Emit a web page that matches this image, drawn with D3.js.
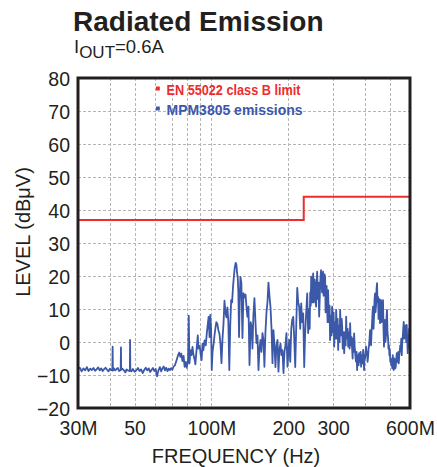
<!DOCTYPE html>
<html>
<head>
<meta charset="utf-8">
<script src="https://cdn.jsdelivr.net/npm/d3@7"></script>
<style>
  html, body { margin: 0; padding: 0; background: #fff; }
  svg { display: block; }
  text { font-family: "Liberation Sans", Arial, Helvetica, sans-serif; }
</style>
</head>
<body>
<svg id="chart" width="437" height="467"></svg>
<script>
// ---------- data ----------
const title = "Radiated Emission";
const xTickValues = [30, 50, 100, 200, 300, 600];
const xTickLabels = ["30M", "50", "100M", "200", "300", "600M"];
const xGridValues = [40, 50, 60, 70, 80, 90, 100, 200, 300, 400, 500];
const yTickValues = [-20, -10, 0, 10, 20, 30, 40, 50, 60, 70, 80];
const legendLabels = ["EN 55022 class B limit", "MPM3805 emissions"];

// limit line (MHz, dBµV)
const limitFreq  = [30, 230, 230, 600];
const limitLevel = [37, 37, 44, 44];

// measured emissions (MHz, dBµV)
const emission = [
[30,-8.2],[30.5,-7.8],[31,-8.9],[31.5,-8.0],[32,-8.6],[32.5,-7.6],[33,-8.8],[33.5,-8.1],[34,-8.5],[34.5,-7.9],
[35,-8.7],[35.5,-8.3],[36,-7.7],[36.5,-8.6],[37,-8.0],[37.5,-8.8],[38,-8.2],[38.5,-7.8],[39,-8.4],[39.5,-8.9],
[40,-8.1],[40.5,-8.5],[40.9,-8.6],[41.0,-1.4],[41.1,-8.7],[41.5,-8.0],[42,-8.6],[42.5,-8.2],[43,-7.9],[43.5,-8.8],
[44.1,-8.5],[44.2,-1.6],[44.3,-8.4],[44.8,-8.1],[45.5,-8.7],[46,-9.2],[46.5,-8.3],[47,-8.6],
[47.9,-8.8],[48.0,0.6],[48.1,-8.5],[48.6,-8.9],[49.2,-8.2],[50,-9.0],[50.8,-8.6],[51.5,-7.9],[52.3,-8.8],[53,-8.3],
[53.8,-9.4],[54.5,-8.5],[55.3,-7.8],[56,-8.6],[56.8,-8.0],[57.5,-9.1],[58.3,-8.4],[59,-7.9],[59.8,-8.8],[60.5,-8.2],
[61.2,-10.4],[62,-8.6],[62.8,-7.6],[63.5,-8.9],[64.3,-8.0],[65,-7.4],[65.8,-8.6],[66.5,-7.8],[67.3,-8.8],[68,-8.1],
[68.8,-8.5],[69.5,-7.9],[70.3,-8.4],[71,-7.5],[72,-7.0],[73,-5.5],[74,-4.0],[74.8,-3.2],[75.5,-4.5],[76.2,-3.5],
[77,-5.8],[77.8,-4.2],[78.5,-7.5],[79.3,-6.0],[80,-7.8],[81,-5.5],[81.5,8.0],[82,-6.5],[82.8,-2.5],[83.5,-4.0],
[84.3,-1.5],[85,-3.8],[86,-5.5],[86.5,-6.8],[87.3,-3.0],[88.4,2.0],[89,-2.0],[90,-1.2],[90.8,-4.0],[91.5,-5.5],
[92.3,-0.5],[93,-2.5],[94,0.5],[95,-1.0],[96,3.0],[96.8,5.5],[97.5,7.6],[98.3,1.5],[99,8.2],[99.7,4.0],
[100.3,-8.5],[101,-3.0],[102,-0.5],[103,2.5],[103.8,4.5],[104.5,6.0],[105.5,5.5],[106.5,3.5],[107.5,2.5],[108.5,-0.5],
[109.5,-6.4],[110.5,1.0],[111.5,5.5],[112.5,12.5],[113.5,9.0],[114.5,7.5],[115.5,10.5],[116.5,6.0],[117.5,-8.5],[118.5,5.0],
[119.5,12.7],[120.5,12.0],[121.5,16.7],[122.5,20.0],[123.5,22.7],[124.5,24.0],[125.3,23.5],[126,21.0],[126.8,19.5],[127.5,15.0],
[128.3,1.5],[129,12],[129.9,19.7],[131,18],[132.3,1.2],[133.5,14.8],[134.8,13.5],[136,14.4],[137.2,10.7],[138.4,7.6],
[139.7,10.7],[141,-7.0],[142.5,6.0],[143.8,4.5],[144.8,-2],[146,8],[147.4,13.3],[148.8,6],[150.1,-0.3],[151.5,2],
[152.9,-8.5],[154.3,-2],[155.7,0.6],[157,-3],[158.5,2.7],[160,0.5],[161.3,-7.5],[162.8,3],[164.3,8.8],[165.8,12],
[167.3,18],[168.8,14],[170.4,10.6],[172,4],[173.5,-6.4],[175,3.6],[176.6,-1],[178.2,-7.6],[179.8,-1],[181.5,0.6],
[183.1,-9],[184.8,-2],[186.5,-0.5],[188.1,-4],[189.8,-2.5],[191.6,-9.4],[193.3,-3],[195,-1],[196.8,2.7],[198.6,-7.5],
[200.2,-3],[201.8,0.6],[203.6,-6],[205.5,4],[207.3,6.7],[209.2,7.6],[211,1.5],[213,-7.6],[215,5],[216.9,16.4],
[218.8,12],[220.8,10.7],[222.8,4],[224.8,11.7],[226.8,6],[228.9,8.7],[231,-7.6],[233,3],[235.2,9],[237.3,14.7],
[239.4,2.7],[240.5,8],[241.6,10],[242.7,4],[243.8,15],[244.9,11],[246,19.8],[247.1,14],[248.2,12],[249.3,18],
[250.4,20.8],[251.5,12],[252.6,14],[253.7,19],[254.9,17.8],[256,12],[257.2,10.7],[258.4,17],[259.6,21.3],[260.7,16],
[261.9,13],[263.1,18],[264.3,7.7],[265.4,12],[266.6,17],[267.8,20],[269,21.8],[270.2,17],[271.4,15],[272.6,20.5],
[273.9,21.3],[275.1,14],[276.4,16],[277.6,20.5],[278.9,19.8],[280.1,9],[281.4,12],[282.7,17],[284,10.7],[285.2,6],
[286.5,15.7],[287.8,10],[289.1,6],[290.4,11],[291.7,0.6],[293,5],[294.3,8],[295.6,2],[297,10.7],[298.3,5],
[299.7,3],[301.2,9],[302.7,-1.4],[304,4],[305.5,6],[306.8,1],[308.2,9.7],[309.6,5],[311,1],[312.4,7],
[313.8,-2.4],[315.2,3],[316.6,5],[318,0],[319.5,9.7],[321,4],[322.4,2],[323.9,7],[325.4,4.7],[326.9,-2],
[328.4,-1],[329.9,3],[331.3,-3.4],[332.8,1],[334.3,3],[335.8,-1],[337.3,7.7],[338.8,2],[340.4,1],[342,4],
[343.5,-1.4],[345,1],[346.5,3],[348,-2],[349.6,5.7],[351.2,0],[352.8,-1],[354.4,1.5],[356,-2.4],[357.6,-5],
[359.2,1],[360.8,-3],[362.4,2.6],[364,-1],[365.7,-3],[367.3,-5],[369,-6],[370.6,-3],[372.3,-8.5],[374,-5],
[375.7,-4],[377.4,-7],[379.1,-3.4],[380.8,-5],[382.5,-6],[384.2,-3],[386,-7.5],[387.7,-5],[389.5,-4],[391.2,-6.5],
[393,-2.4],[394.8,-5],[396.5,-8.5],[398.2,-4],[400,-5],[401.8,-3],[403.6,-1.4],[405.4,-4],[407.3,-3],[409.1,-6],
[411,-4.5],[412.8,-2],[414.7,-1],[416.5,1],[418.4,3.6],[420.3,0],[422.2,-1],[424.1,3],[426,5.7],[427.9,9],
[429.9,10.7],[431.8,4],[433.8,8],[435.7,13],[437.7,14.7],[439.6,9],[441.6,11],[443.6,16],[445.6,17.8],[447.6,12],
[449.7,13.7],[451.7,7],[453.7,9],[455.7,13],[457.8,5.7],[459.8,10],[461.9,12.7],[464,6],[466.1,8],[468.2,11],
[470.3,12.7],[472.4,4],[474.5,-1.4],[476.6,3],[478.8,6.7],[481,0],[483.1,2],[485.3,7],[487.5,9.7],[489.7,3],
[491.9,1.6],[494.1,-2],[496.3,-1],[498.2,-4],[500,-2.4],[502.2,-6],[504.5,-5],[506.8,-7],[509.1,-6.5],[511.4,-8],
[513.7,-4],[516,-7],[518.3,-8.5],[520.6,-5],[523,-6],[525.3,-8],[527.7,-7.5],[530.1,-5],[532.5,-3.4],[534.9,-6],
[537.3,-5.5],[539.7,-3],[542.1,-6.5],[544.5,-4],[547,-3],[549.4,-1],[551.9,-2.4],[554.4,1],[557,-4],[559.5,0],
[562,1.6],[564.5,4],[567,6.1],[569.5,1],[572,2],[574.6,5],[577.3,3.6],[579.9,0],[582.5,5.2],[585.1,1],
[587.8,-3.4],[590.4,2],[593,0],[595.7,4],[598.4,-2]
];

// ---------- layout ----------
const svg = d3.select("#chart");
const L = 78, R = 410, T = 78, B = 408;
const ink = "#231f20";
const blue = "#3c58a8";
const red = "#ee2b2e";

const x = d3.scaleLog().domain([30, 600]).range([L, R]);
const y = d3.scaleLinear().domain([-20, 80]).range([B, T]);

// grid
const grid = svg.append("g").attr("stroke", "#b5b5b5").attr("stroke-width", 1)
  .attr("stroke-dasharray", "3,2");
grid.selectAll("line.v").data(xGridValues).join("line")
  .attr("x1", d => Math.round(x(d)) + 0.5).attr("x2", d => Math.round(x(d)) + 0.5)
  .attr("y1", T).attr("y2", B);
grid.selectAll("line.h").data(yTickValues.slice(1, -1)).join("line")
  .attr("y1", d => Math.round(y(d)) + 0.5).attr("y2", d => Math.round(y(d)) + 0.5)
  .attr("x1", L).attr("x2", R);

// clip
svg.append("clipPath").attr("id", "plotclip").append("rect")
  .attr("x", L).attr("y", T).attr("width", R - L).attr("height", B - T);

// emissions line
const line = d3.line().x(d => x(d[0])).y(d => y(d[1]));
svg.append("path").datum(emission)
  .attr("clip-path", "url(#plotclip)")
  .attr("fill", "none").attr("stroke", blue).attr("stroke-width", 1.8)
  .attr("stroke-linejoin", "round")
  .attr("d", line);

// limit line
const limitPts = limitFreq.map((f, i) => [f, limitLevel[i]]);
svg.append("path").datum(limitPts)
  .attr("fill", "none").attr("stroke", red).attr("stroke-width", 2)
  .attr("d", line);

// frame
svg.append("rect").attr("x", L).attr("y", T).attr("width", R - L).attr("height", B - T)
  .attr("fill", "none").attr("stroke", ink).attr("stroke-width", 3);

// axes labels
const xAxis = d3.axisBottom(x).tickValues(xTickValues)
  .tickFormat((d, i) => xTickLabels[i]).tickSize(0).tickPadding(0);
const gx = svg.append("g").attr("transform", `translate(0,${B})`).call(xAxis);
gx.select(".domain").remove();
gx.selectAll("text").attr("font-size", "19.5px").attr("fill", ink)
  .attr("font-family", "Liberation Sans, Arial, sans-serif")
  .attr("dy", null).attr("y", 27);

const yAxis = d3.axisLeft(y).tickValues(yTickValues).tickSize(0).tickPadding(0);
const gy = svg.append("g").attr("transform", `translate(${L},0)`).call(yAxis);
gy.select(".domain").remove();
gy.selectAll("text").attr("font-size", "19.5px").attr("fill", ink)
  .attr("font-family", "Liberation Sans, Arial, sans-serif")
  .attr("x", -8).attr("dy", "0.36em");

// axis titles
svg.append("text").attr("x", 236).attr("y", 463).attr("text-anchor", "middle")
  .attr("font-size", "20px").attr("fill", ink).text("FREQUENCY (Hz)");
svg.append("text").attr("transform", "translate(30,232) rotate(-90)")
  .attr("text-anchor", "middle").attr("font-size", "20px").attr("fill", ink)
  .text("LEVEL (dB\u03BCV)");

// title
svg.append("text").attr("x", 73).attr("y", 30.5).attr("font-size", "28px")
  .attr("font-weight", "bold").attr("fill", ink).text(title);
const sub = svg.append("text").attr("x", 74).attr("y", 53).attr("fill", ink).attr("font-size", "18.5px");
sub.append("tspan").text("I");
sub.append("tspan").attr("dy", 4.5).attr("font-size", "17px").text("OUT");
sub.append("tspan").attr("dy", -4.5).text("=0.6A");

// legend
const legendColors = [red, blue];
const lg = svg.append("g");
legendLabels.forEach((lab, i) => {
  const yy = 95 + i * 20;
  lg.append("rect").attr("x", 156).attr("y", yy - 8.5).attr("width", 3.8).attr("height", 4)
    .attr("fill", legendColors[i]);
  lg.append("text").attr("x", 166.5).attr("y", yy).attr("font-size", "15px")
    .attr("font-weight", "bold")
    .attr("fill", legendColors[i])
    .attr("textLength", i === 0 ? 134 : 136).attr("lengthAdjust", "spacingAndGlyphs")
    .text(lab);
});
</script>
</body>
</html>
